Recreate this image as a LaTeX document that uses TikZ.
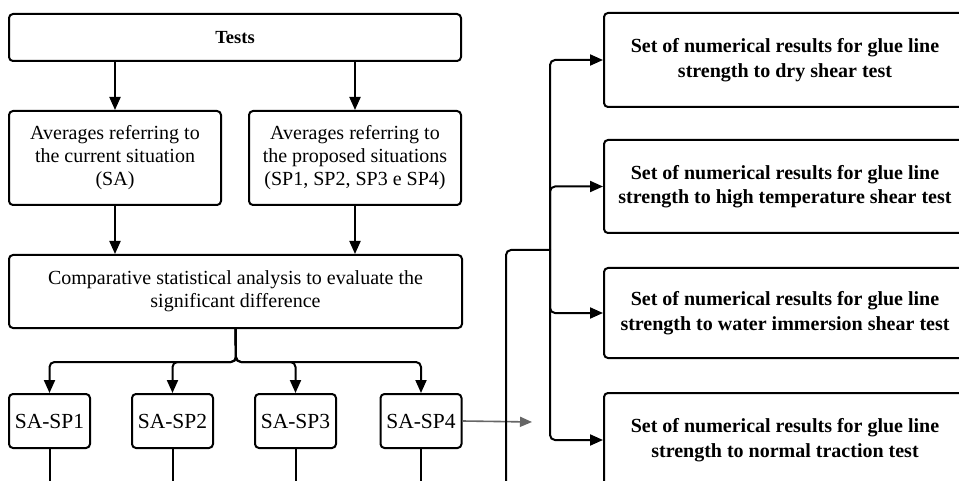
\documentclass[tikz,border=0pt]{standalone}
\usepackage{fontspec}
\setmainfont{Liberation Serif}
\usetikzlibrary{arrows.meta}
\begin{document}
\begin{tikzpicture}[x=1pt,y=-1pt,
  box/.style={draw=black, line width=2pt, rounded corners=4pt, align=center, inner sep=0pt, fill=white},
  normtxt/.style={font=\fontsize{20}{23}\selectfont},
  boldtxt/.style={font=\fontsize{20}{24.5}\selectfont\bfseries},
  sptxt/.style={font=\fontsize{21.5}{24}\selectfont},
  conn/.style={line width=2pt, draw=black},
  arr/.style={conn, -{Triangle[length=13pt,width=11pt]}},
  grayarr/.style={line width=1.6pt, draw=black!60, -{Triangle[length=12pt,width=10pt]}}
]
\useasboundingbox (0,0) rectangle (959,481);
\clip (0,0) rectangle (959,481);
\fill[white] (0,0) rectangle (959,481);

% left column nodes
\node[box, font=\fontsize{18.5}{22}\selectfont\bfseries, minimum width=452pt, minimum height=47pt] (tests) at (235,37.5) {Tests};
\node[box, normtxt, minimum width=212pt, minimum height=94pt] (sa) at (115,158) {Averages referring to\\the current situation\\(SA)};
\node[box, normtxt, minimum width=212pt, minimum height=94pt] (sp) at (355,158) {Averages referring to\\the proposed situations\\(SP1, SP2, SP3 e SP4)};
\node[box, normtxt, minimum width=453pt, minimum height=73pt] (comp) at (235.5,291.5) {Comparative statistical analysis to evaluate the\\significant difference};

\node[box, sptxt, minimum width=81pt, minimum height=54pt] (b1) at (49.5,421) {SA-SP1};
\node[box, sptxt, minimum width=81pt, minimum height=54pt] (b2) at (172.5,421) {SA-SP2};
\node[box, sptxt, minimum width=81pt, minimum height=54pt] (b3) at (295.5,421) {SA-SP3};
\node[box, sptxt, minimum width=81pt, minimum height=54pt] (b4) at (421,421) {SA-SP4};

% right column nodes
\node[box, boldtxt, minimum width=362pt, minimum height=94pt] (r1) at (785,60) {Set of numerical results for glue line\\strength to dry shear test};
\node[box, boldtxt, minimum width=362pt, minimum height=93pt] (r2) at (785,186.5) {Set of numerical results for glue line\\strength to high temperature shear test};
\node[box, boldtxt, minimum width=362pt, minimum height=90pt] (r3) at (785,313) {Set of numerical results for glue line\\strength to water immersion shear test};
\node[box, boldtxt, minimum width=362pt, minimum height=94pt] (r4) at (785,440) {Set of numerical results for glue line\\strength to normal traction test};

% helper coordinates
\coordinate (j) at (236,362);
\coordinate (bot) at (0,490);
\coordinate (g) at (532,422);
\coordinate (v1) at (506,490);
\coordinate (v2) at (550,250);

% connectors
\draw[arr] (tests.south -| sa.north) -- (sa.north);
\draw[arr] (tests.south -| sp.north) -- (sp.north);
\draw[arr] (sa.south) -- (sa.south |- comp.north);
\draw[arr] (sp.south) -- (sp.south |- comp.north);

\draw[arr, rounded corners=5pt] (comp.south) -- (j) -| (b1.north);
\draw[arr, rounded corners=5pt] (comp.south) -- (j) -| (b2.north);
\draw[arr, rounded corners=5pt] (comp.south) -- (j) -| (b3.north);
\draw[arr, rounded corners=5pt] (comp.south) -- (j) -| (b4.north);

\draw[conn] (b1.south) -- (b1.south |- bot);
\draw[conn] (b2.south) -- (b2.south |- bot);
\draw[conn] (b3.south) -- (b3.south |- bot);
\draw[conn] (b4.south) -- (b4.south |- bot);

\draw[grayarr] (b4.east) -- (g);

\draw[conn, rounded corners=5pt] (v1) |- (v2);
\draw[arr, rounded corners=5pt] (v2) |- (r1.west);
\draw[arr, rounded corners=5pt] (v2) |- (r2.west);
\draw[arr, rounded corners=5pt] (v2) |- (r3.west);
\draw[arr, rounded corners=5pt] (v2) |- (r4.west);
\end{tikzpicture}
\end{document}
